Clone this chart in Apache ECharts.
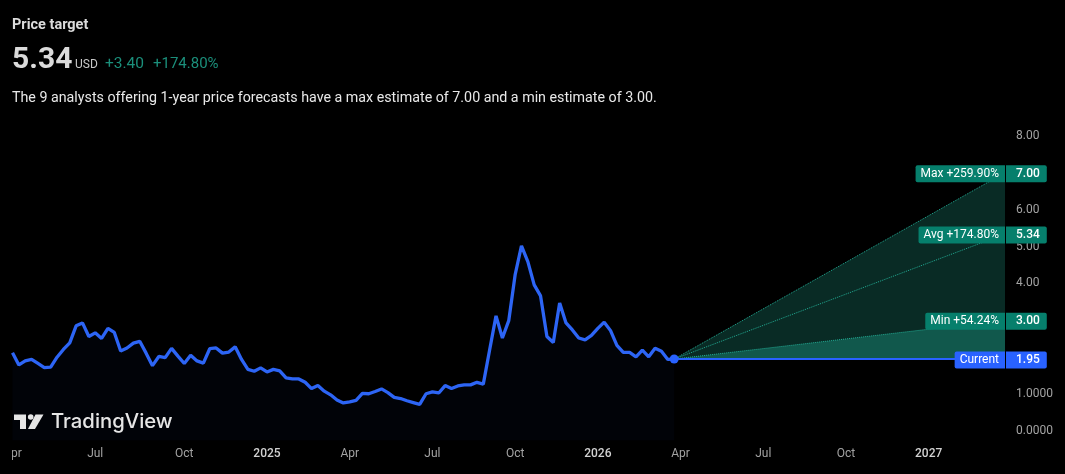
<!DOCTYPE html>
<html lang="en">
<head>
    <meta charset="UTF-8">
    <title>Price target</title>
    <style>
        html,body{margin:0;padding:0;background:#000}
        #main{width:1065px;height:474px}
    </style>
    <script src="https://cdn.jsdelivr.net/npm/echarts@6/dist/echarts.min.js"></script>
</head>
<body>
    <div id="main"></div>
    <script>
        // weekly closes, one per Monday from 2024-04-01
        var prices = [2.12,1.79,1.90,1.94,1.83,1.72,1.73,2.00,2.21,2.39,2.85,2.93,2.56,2.66,2.51,2.78,2.67,2.17,2.25,2.38,2.43,
            2.11,1.77,2.02,1.99,2.24,2.03,1.83,2.05,1.90,1.84,2.23,2.25,2.11,2.14,2.28,1.94,1.67,1.62,1.71,1.60,1.67,1.63,1.44,
            1.41,1.41,1.32,1.15,1.23,1.08,0.98,0.84,0.76,0.79,0.83,1.02,1.01,1.07,1.14,1.04,0.91,0.88,0.82,0.77,0.72,1.01,1.06,
            1.03,1.23,1.15,1.22,1.25,1.25,1.32,1.27,2.20,3.12,2.52,2.99,4.23,5.02,4.59,3.96,3.66,2.56,2.40,3.47,2.93,2.74,2.52,
            2.47,2.59,2.78,2.95,2.72,2.32,2.13,2.13,2.01,2.19,2.01,2.24,2.16,1.94,1.95];
        var currentPrice = 1.95;
        var targetNames = ['Max','Avg','Min'];
        var targetPrices = [7.00,5.34,3.00];
        var targetPcts = ['+259.90%','+174.80%','+54.24%'];
        var yTicks = [0,1,4,5,6,8];
        var monthNames = ['Jan','Apr','Jul','Oct'];
        var weekCount = 157;

        var FONT = 'Roboto, sans-serif';
        var GREEN = '#067f6c', BLUE = '#2962ff';

        var weeks = [];
        for (var i = 0; i < weekCount; i++) {
            weeks.push(new Date(Date.UTC(2024, 3, 1 + i * 7)).toISOString().slice(0, 10));
        }
        var lastIdx = prices.length - 1, endIdx = weekCount - 1;

        function isQuarterStart(day) {
            var p = day.split('-');
            return +p[2] <= 7 && (+p[1] - 1) % 3 == 0;
        }

        function fanSeries(price, fill) {
            return {
                type: 'line', z: 2, symbol: 'none', silent: true,
                data: [[lastIdx, currentPrice], [endIdx, price]],
                lineStyle: {color: '#22ab94', width: 1, type: 'dotted'},
                areaStyle: fill ? {color: fill, opacity: 1, origin: currentPrice} : null
            };
        }

        var tagData = targetNames.map(function (n, k) {
            return {value: [endIdx, targetPrices[k]], tag: n + ' ' + targetPcts[k], price: targetPrices[k].toFixed(2)};
        });
        tagData.push({value: [endIdx, currentPrice], tag: 'Current', price: currentPrice.toFixed(2)});

        function renderTag(params, api) {
            var d = tagData[params.dataIndex];
            var p = api.coord(d.value);
            var color = params.dataIndex == 3 ? BLUE : GREEN;
            var boxStyle = {fill: '#fff', backgroundColor: color, verticalAlign: 'middle', lineHeight: 17, height: 17};
            return {type: 'group', children: [
                {type: 'text', x: p[0], y: p[1] + 1, style: Object.assign({}, boxStyle, {
                    text: d.tag, font: '400 12px ' + FONT, align: 'right', padding: [0, 6, 0, 5], borderRadius: [2, 0, 0, 2]})},
                {type: 'text', x: p[0] + 1, y: p[1] + 1, style: Object.assign({}, boxStyle, {
                    text: d.price, font: '500 12px ' + FONT, align: 'left', padding: [0, 7, 0, 10], borderRadius: [0, 2, 2, 0]})}
            ]};
        }

        var myChart = echarts.init(document.getElementById('main'));
        myChart.setOption({
            animation: false,
            backgroundColor: '#000',
            textStyle: {fontFamily: FONT},
            grid: {left: 12.5, right: 60, top: 117.35, height: 322.875},
            xAxis: {
                type: 'category', data: weeks, boundaryGap: false,
                axisLine: {show: false}, axisTick: {show: false}, splitLine: {show: false},
                axisLabel: {
                    margin: 8, fontSize: 12, color: '#a3a3a3',
                    interval: function (i, v) { return isQuarterStart(v); },
                    formatter: function (v) {
                        var p = v.split('-'), m = +p[1] - 1;
                        return m == 0 ? '{year|' + p[0] + '}' : monthNames[m / 3];
                    },
                    rich: {year: {fontSize: 12, fontWeight: 500, color: '#d1d1d1'}}
                }
            },
            yAxis: {
                type: 'value', position: 'right', min: -0.25, max: 8.5,
                axisLine: {show: false}, axisTick: {show: false}, splitLine: {show: false},
                axisLabel: {
                    margin: 11, fontSize: 12, color: '#a3a3a3', customValues: yTicks, padding: [2, 0, 0, 0],
                    formatter: function (v) { return v <= 1 ? v.toFixed(4) : v.toFixed(2); }
                }
            },
            series: [
                fanSeries(targetPrices[0], 'rgba(34,171,148,0.25)'),
                fanSeries(targetPrices[1]),
                fanSeries(targetPrices[2], 'rgba(34,171,148,0.35)'),
                {
                    type: 'line', z: 3, symbol: 'none', silent: true, data: prices,
                    lineStyle: {color: '#2d65f5', width: 3.3},
                    areaStyle: {color: 'rgba(41,98,255,0.03)', opacity: 1, origin: 'start'}
                },
                {
                    type: 'line', z: 4, silent: true, showSymbol: true, showAllSymbol: true,
                    data: [[lastIdx, currentPrice], [endIdx, currentPrice]],
                    symbol: function (v, p) { return p.dataIndex == 0 ? 'circle' : 'none'; },
                    symbolSize: 9,
                    itemStyle: {color: BLUE},
                    lineStyle: {color: BLUE, width: 2}
                },
                {
                    type: 'custom', z: 10, silent: true, clip: false, data: tagData,
                    renderItem: renderTag
                }
            ],
            graphic: [
                // cuts the "A" off the first month label, like the screenshot
                {type: 'rect', z: 100, shape: {x: 0, y: 444, width: 12, height: 20}, style: {fill: '#000'}},
                {type: 'text', x: 12, y: 25, style: {text: 'Price target', font: 'bold 14.5px ' + FONT, fill: '#dbdbdb', verticalAlign: 'middle'}},
                {type: 'text', x: 12, y: 60, style: {text: '5.34', font: 'bold 30px ' + FONT, fill: '#dbdbdb', verticalAlign: 'middle'}},
                {type: 'text', x: 75, y: 65, style: {text: 'USD', font: '12px ' + FONT, fill: '#c8c8c8', verticalAlign: 'middle'}},
                {type: 'text', x: 105, y: 64, style: {text: '+3.40', font: '15.5px ' + FONT, fill: '#1b8f7b', verticalAlign: 'middle'}},
                {type: 'text', x: 153, y: 64, style: {text: '+174.80%', font: '15px ' + FONT, fill: '#1b8f7b', verticalAlign: 'middle'}},
                {type: 'text', x: 12, y: 98, style: {text: 'The 9 analysts offering 1-year price forecasts have a max estimate of 7.00 and a min estimate of 3.00.', font: '14.25px ' + FONT, fill: '#e8e8e8', verticalAlign: 'middle'}},
                // TradingView watermark
                {type: 'polygon', z: 20, shape: {points: [[14,414.5],[26,414.5],[26,429],[20,429],[20,420],[14,420]]}, style: {fill: '#e6e6e6'}},
                {type: 'circle', z: 20, shape: {cx: 30.7, cy: 417, r: 2.8}, style: {fill: '#e6e6e6'}},
                {type: 'polygon', z: 20, shape: {points: [[35.5,414.5],[43.5,414.5],[35,429],[28,429]]}, style: {fill: '#e6e6e6'}},
                {type: 'text', z: 20, x: 51, y: 422, style: {text: 'TradingView', font: '500 20.3px Inter, sans-serif', fill: '#e6e6e6', verticalAlign: 'middle'}}
            ]
        });
    </script>
</body>
</html>
